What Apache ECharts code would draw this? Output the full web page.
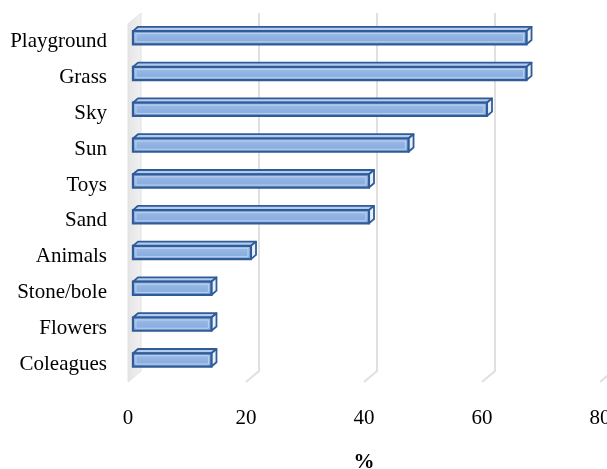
<!DOCTYPE html>
<html>
<head>
<meta charset="utf-8">
<script src="https://cdn.jsdelivr.net/npm/echarts@6/dist/echarts.min.js"></script>
<style>html,body{margin:0;padding:0;background:#fff}#c{width:607px;height:469px}</style>
</head>
<body>
<div id="c"></div>
<script>
var categories = ['Playground','Grass','Sky','Sun','Toys','Sand','Animals','Stone/bole','Flowers','Coleagues'];
var values = [66.7, 66.7, 60, 46.7, 40, 40, 20, 13.3, 13.3, 13.3];
var xTicks = [0, 20, 40, 60, 80];

var DEPTH = [13, -11];           // front plane -> back plane offset
var BAR_FRONT = 0.38, BAR_BACK = 0.77;
function off(t){ return [DEPTH[0]*t, DEPTH[1]*t]; }

var chart = echarts.init(document.getElementById('c'), null, {renderer:'canvas'});

function renderWall(params, api){
  var cs = params.coordSys;
  var v = api.value(0);
  var b = off(1);
  var p = api.coord([v, 0]);
  var x = p[0];
  var top = cs.y, bot = cs.y + cs.height;
  var children = [];
  if (v === 0) {
    children.push({
      type:'polygon',
      shape:{points:[[x,top],[x+b[0],top+b[1]],[x+b[0],bot+b[1]],[x,bot]]},
      style:{fill:new echarts.graphic.LinearGradient(0,0,1,0,[{offset:0,color:'#e4e4e4'},{offset:1,color:'#f1f1f1'}]), stroke:'#e2e2e2', lineWidth:1}
    });
  } else {
    children.push({
      type:'polyline',
      shape:{points:[[x,bot],[x+b[0],bot+b[1]],[x+b[0],top+b[1]]]},
      style:{stroke:'#e0e0e0', lineWidth:2, fill:null}
    });
  }
  return {type:'group', children:children};
}

function renderBar(params, api){
  var ci = api.value(1);
  var v = api.value(0);
  var p0 = api.coord([0, ci]);
  var p1 = api.coord([v, ci]);
  var band = api.size([0, 1])[1];
  var h = band * 0.185;
  var f = off(BAR_FRONT), k = off(BAR_BACK);
  var x0 = p0[0] + f[0], x1 = p1[0] + f[0];
  var yt = p0[1] + f[1] - h, yb = p0[1] + f[1] + h;
  var dx = k[0] - f[0], dy = k[1] - f[1];
  var stroke = '#2f5c98';
  return {
    type:'group',
    children:[
      {type:'polygon', shape:{points:[[x0,yt],[x1,yt],[x1+dx,yt+dy],[x0+dx,yt+dy]]},
       style:{fill:'#b3cbec', stroke:stroke, lineWidth:1.8, lineJoin:'round'}},
      {type:'polygon', shape:{points:[[x1,yt],[x1,yb],[x1+dx,yb+dy],[x1+dx,yt+dy]]},
       style:{fill:'#e9eff8', stroke:stroke, lineWidth:1.8, lineJoin:'round'}},
      {type:'rect', shape:{x:x0, y:yt, width:x1-x0, height:yb-yt},
       style:{fill:new echarts.graphic.LinearGradient(0,0,0,1,[{offset:0,color:'#a4c0e8'},{offset:0.5,color:'#8fb2e2'},{offset:1,color:'#86a9db'}]), stroke:stroke, lineWidth:2.2}},
      {type:'rect', shape:{x:x0+3, y:yt+2.5, width:Math.max(0,x1-x0-6), height:yb-yt-5},
       style:{fill:null, stroke:'#b9d0ef', lineWidth:1}}
    ]
  };
}

var serif = '"Liberation Serif", "Times New Roman", serif';
chart.setOption({
  animation:false,
  grid:{left:128, right:7, top:24, height:358, outerBoundsMode:'none', containLabel:false},
  xAxis:{
    type:'value', min:0, max:80, interval:20,
    axisLine:{show:false}, axisTick:{show:false}, splitLine:{show:false},
    axisLabel:{color:'#000', fontFamily:serif, fontSize:21, margin:26,
      formatter:function(v){ return xTicks.indexOf(v) >= 0 ? String(v) : ''; }},
    name:'%', nameLocation:'middle', nameGap:70,
    nameTextStyle:{color:'#000', fontFamily:serif, fontSize:21, fontWeight:'bold'}
  },
  yAxis:{
    type:'category', data:categories, inverse:true,
    axisLine:{show:false}, axisTick:{show:false}, splitLine:{show:false},
    axisLabel:{color:'#000', fontFamily:serif, fontSize:21, margin:21}
  },
  series:[
    {type:'custom', z:1, silent:true, renderItem:renderWall,
     data:xTicks.map(function(v){ return [v]; }), encode:{x:0}},
    {type:'custom', z:2, renderItem:renderBar,
     data:values.map(function(v,i){ return [v, i]; }), encode:{x:0, y:1}}
  ]
});
</script>
</body>
</html>
